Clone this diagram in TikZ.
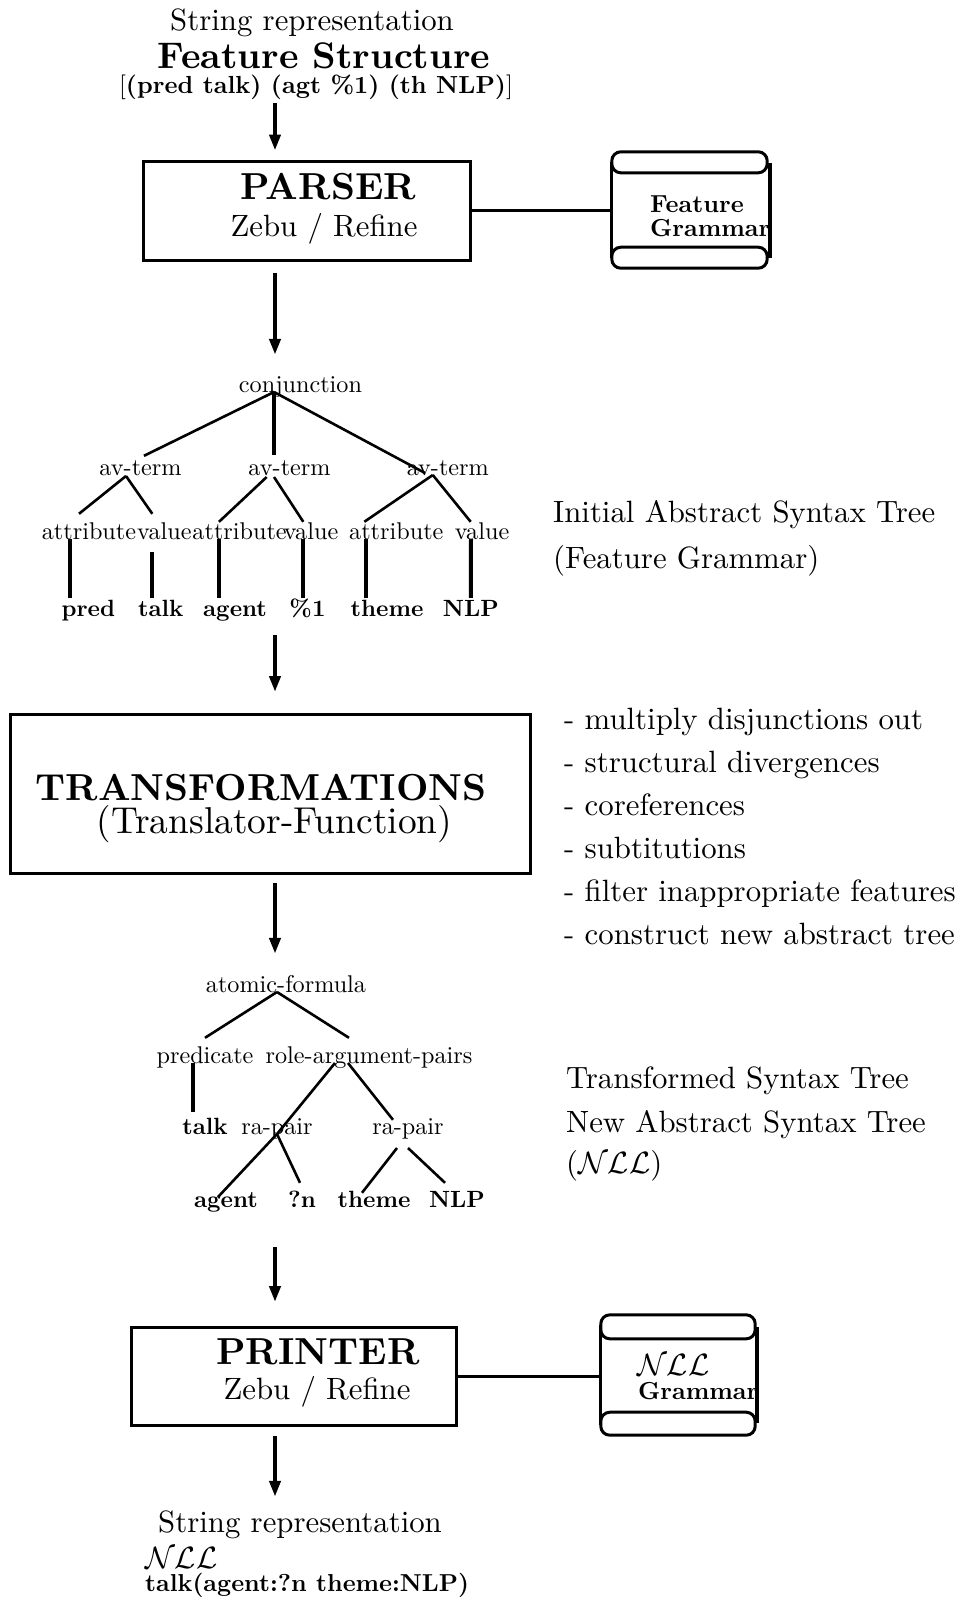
\documentclass[tikz,border=0pt]{standalone}
\usepackage{fix-cm}
\usepackage{fontspec}
\setmainfont{lmroman10-regular.otf}[BoldFont=lmroman10-bold.otf]
\usetikzlibrary{arrows.meta,calc}
\tikzset{
 fbase/.style={font=\fontsize{30.8}{36}\selectfont, inner sep=0pt},
 fbig/.style={font=\fontsize{37.6}{44}\selectfont\bfseries, inner sep=0pt},
 tl/.style={font=\fontsize{24.2}{29}\selectfont, inner sep=0pt, text height=17pt, text depth=5pt, anchor=base},
 lf/.style={font=\fontsize{23.5}{29}\selectfont\bfseries, inner sep=0pt, text height=17pt, text depth=5pt, anchor=base},
 box/.style={draw, line width=3pt, inner sep=0pt},
 arr/.style={line width=4pt, -{Triangle[length=16pt,width=11pt]}},
 tline/.style={line width=2.6pt},
 vline/.style={line width=4pt},
 scroll/.style={line width=3pt, rounded corners=9pt},
 gtext/.style={font=\fontsize{24.6}{24}\selectfont\bfseries, inner sep=0pt, anchor=west, align=left},
 rtext/.style={fbase, anchor=base west},
}
\begin{document}
\begin{tikzpicture}[x=1pt,y=-1pt]
\useasboundingbox (0,0) rectangle (964,1599);
\coordinate (ax) at (275,0);

% top
\node[fbase] (s1) at (312,23) {String representation};
\node[font=\fontsize{37}{44}\selectfont\bfseries, inner sep=0pt] (fs) at (324,56) {Feature Structure};
\node[font=\fontsize{24.7}{29}\selectfont, inner sep=0pt] (fsv) at (316,87) {[\textbf{(pred talk) (agt \%1) (th NLP)}]};

% parser
\node[box, minimum width=327pt, minimum height=99pt] (parser) at (306.5,210.5) {};
\node[fbig] (ptxt) at (328,187) {PARSER};
\node[fbase] (pz) at (324,229) {Zebu / Refine};
\draw[arr, shorten <=3pt, shorten >=9pt] (fsv.south -| ax) -- (parser.north -| ax);

% feature grammar scroll
\node[inner sep=0pt, minimum width=158pt, minimum height=116pt] (fg) at (691,210) {};
\draw[scroll] (fg.north west) rectangle ($(fg.north east)+(-3,21)$);
\draw[scroll] ($(fg.south west)+(0,-21)$) rectangle ($(fg.south east)+(-3,0)$);
\draw[line width=3pt] ($(fg.north west)+(0,10)$) -- ($(fg.south west)+(0,-10)$);
\draw[line width=3.5pt] ($(fg.north east)+(0,11)$) -- ($(fg.south east)+(0,-10)$);
\node[gtext] (fgt) at (650,216) {Feature\\Grammar};
\draw[line width=3pt] (parser.east) -- (parser.east -| fg.west);

% tree 1
\node[tl] (conj) at (300.5,392) {conjunction};
\node[tl] (av1) at (140.5,475) {av-term};
\node[tl] (av2) at (289.5,475) {av-term};
\node[tl] (av3) at (447.8,475) {av-term};
\node[tl] (at1) at (89,539) {attribute};
\node[tl] (v1) at (164.3,539) {value};
\node[tl] (at2) at (239.6,539) {attribute};
\node[tl] (v2) at (311,539) {value};
\node[tl] (at3) at (396.3,539) {attribute};
\node[tl] (v3) at (482,539) {value};
\node[lf] (l1) at (88.3,616) {pred};
\node[lf] (l2) at (160.8,616) {talk};
\node[lf] (l3) at (235,616) {agent};
\node[lf] (l4) at (307.5,616) {\%1};
\node[lf] (l5) at (387,616) {theme};
\node[lf] (l6) at (470.8,616) {NLP};

\draw[arr, shorten <=11.5pt, shorten >=20pt] (parser.south -| ax) -- (conj.north -| ax);

\draw[tline] ([xshift=-26.5pt]conj.base) -- ([xshift=3.5pt,yshift=2pt]av1.north);
\draw[vline] ([xshift=-26.5pt]conj.base) -- ([xshift=-15.5pt,yshift=3pt]av2.north);
\draw[tline] ([xshift=-26.5pt]conj.base) -- ([xshift=-22.8pt,yshift=2pt]av3.base);
\draw[tline] ([xshift=-14.5pt,yshift=-1pt]av1.base) -- ([xshift=-10pt,yshift=8pt]at1.north);
\draw[tline] ([xshift=-14.5pt,yshift=-1pt]av1.base) -- ([xshift=-12pt,yshift=8pt]v1.north);
\draw[tline] ([xshift=-22.8pt,yshift=-2pt]av2.base) -- ([xshift=-20.6pt]at2.north);
\draw[tline] ([xshift=-15.5pt,yshift=-2pt]av2.base) -- ([xshift=-7.7pt]v2.north);
\draw[tline] ([xshift=-15pt]av3.base) -- ([xshift=-32pt]at3.north);
\draw[tline] ([xshift=-15pt]av3.base) -- ([xshift=-11.3pt]v3.north);
\draw[vline] ([xshift=-18.7pt]at1.base) -- ([xshift=-18pt,yshift=1pt]l1.north);
\draw[vline] ([xshift=-12pt,yshift=-13pt]v1.base) -- ([xshift=-8.5pt,yshift=1pt]l2.north);
\draw[vline] ([xshift=-20.6pt]at2.base) -- ([xshift=-16pt,yshift=1pt]l3.north);
\draw[vline] ([xshift=-7.7pt]v2.base) -- ([xshift=-4.2pt,yshift=1pt]l4.north);
\draw[vline] ([xshift=-30.3pt]at3.base) -- ([xshift=-21pt,yshift=1pt]l5.north);
\draw[vline] ([xshift=-11pt]v3.base) -- ([yshift=1pt]l6.north);

\node[rtext] (it1) at (553,522) {Initial Abstract Syntax Tree};
\node[rtext] (it2) at (553,568) {(Feature Grammar)};

% transformations
\node[box, minimum width=520pt, minimum height=159pt] (trans) at (270,793.5) {};
\node[fbig] (tt) at (261,788) {TRANSFORMATIONS};
\node[font=\fontsize{37.4}{43}\selectfont, inner sep=0pt] (tf) at (274.4,824) {(Translator-Function)};
\draw[arr, shorten <=14pt, shorten >=20.5pt] (l3.south -| ax) -- (trans.north -| ax);

\node[rtext] (b1) at (564,729) {- multiply disjunctions out};
\node[rtext] (b2) at (564,772) {- structural divergences};
\node[rtext] (b3) at (564,815) {- coreferences};
\node[rtext] (b4) at (564,858) {- subtitutions};
\node[rtext] (b5) at (564,901) {- filter inappropriate features};
\node[rtext] (b6) at (564,944) {- construct new abstract tree};

% tree 2
\node[tl] (af) at (286,992) {atomic-formula};
\node[tl] (pr) at (205,1063) {predicate};
\node[tl] (rap) at (369,1063) {role-argument-pairs};
\node[lf] (tk) at (205,1134) {talk};
\node[tl] (rp1) at (277,1134) {ra-pair};
\node[tl] (rp2) at (408,1134) {ra-pair};
\node[lf] (ag) at (226,1207) {agent};
\node[lf] (qn) at (302,1207) {?n};
\node[lf] (th) at (374,1207) {theme};
\node[lf] (nl) at (457,1207) {NLP};

\draw[arr, shorten <=8.5pt, shorten >=21pt] (trans.south -| ax) -- (af.north -| ax);

\draw[tline] ([xshift=-9pt]af.base) -- ([yshift=8pt]pr.north);
\draw[tline] ([xshift=-9pt]af.base) -- ([xshift=-20pt,yshift=8pt]rap.north);
\draw[vline] ([xshift=-12pt]pr.base) -- ([xshift=-12pt,yshift=5pt]tk.north);
\draw[tline] ([xshift=-34pt]rap.base) -- (rp1.base);
\draw[tline] (rp1.base) -- ([xshift=-8pt,yshift=10pt]ag.base);
\draw[tline] (rp1.base) -- ([xshift=-2pt,yshift=7pt]qn.north);
\draw[tline] ([xshift=-21pt]rap.base) -- ([xshift=-15pt,yshift=-3pt]rp2.north);
\draw[tline] ([xshift=-11pt,yshift=-14pt]rp2.base) -- ([xshift=-12pt,yshift=-3pt]th.north);
\draw[tline] ([yshift=-14pt]rp2.base) -- ([xshift=-12pt,yshift=7pt]nl.north);

\node[fbase, anchor=west] (tr1) at (566,1081) {Transformed Syntax Tree};
\node[fbase, anchor=west] (tr2) at (566,1125) {New Abstract Syntax Tree};
\node[fbase, anchor=west] (tr3) at (566,1166) {($\mathcal{NLL}$)};

% printer
\node[box, minimum width=325pt, minimum height=98pt] (printer) at (293.5,1376) {};
\node[fbig] (prt) at (318,1352) {PRINTER};
\node[fbase] (prz) at (317,1392) {Zebu / Refine};
\draw[arr, shorten <=35pt, shorten >=23.5pt] (ag.south -| ax) -- (printer.north -| ax);

% NLL grammar scroll
\node[inner sep=0pt, minimum width=156pt, minimum height=120pt] (ng) at (679,1375) {};
\draw[scroll] (ng.north west) rectangle ($(ng.north east)+(-2,24)$);
\draw[scroll] ($(ng.south west)+(0,-23)$) rectangle ($(ng.south east)+(-2,0)$);
\draw[line width=3pt] ($(ng.north west)+(0,10)$) -- ($(ng.south west)+(0,-10)$);
\draw[line width=3.5pt] ($(ng.north east)+(0,12)$) -- ($(ng.south east)+(0,-12)$);
\node[fbase, anchor=west] (ngt1) at (637,1365) {$\mathcal{NLL}$};
\node[gtext] (ngt2) at (638,1391) {Grammar};
\draw[line width=3pt] (printer.east) -- (printer.east -| ng.west);

% bottom
\node[fbase] (s2) at (300,1525) {String representation};
\draw[arr, shorten <=9.5pt, shorten >=14pt] (printer.south -| ax) -- (s2.north -| ax);
\node[fbase, anchor=west] (s2n) at (145,1558) {$\mathcal{NLL}$};
\node[font=\fontsize{24.5}{29}\selectfont\bfseries, inner sep=0pt, anchor=west] (s2t) at (145,1585) {talk(agent:?n theme:NLP)};
\end{tikzpicture}
\end{document}
